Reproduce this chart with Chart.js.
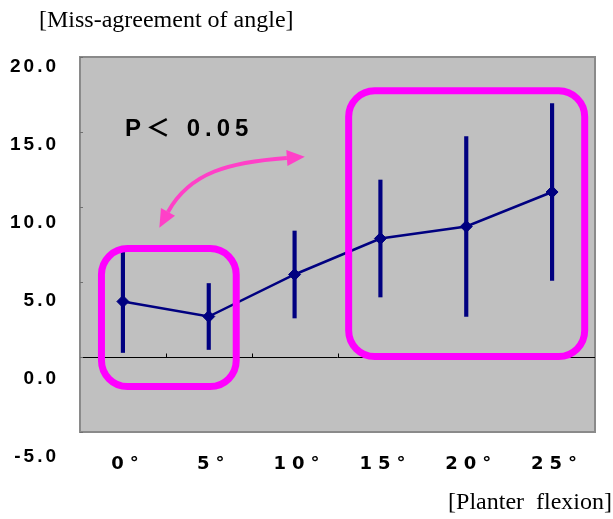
<!DOCTYPE html>
<html><head><meta charset="utf-8">
<script src="https://cdn.jsdelivr.net/npm/chart.js@4"></script>
<style>
html,body{margin:0;padding:0;background:#fff;}
#wrap{position:relative;width:613px;height:519px;overflow:hidden;}
canvas{position:absolute;left:0;top:0;}
.t{position:absolute;font-family:"Liberation Serif","Times New Roman",serif;font-size:24px;line-height:24px;color:#000;white-space:pre;}
</style></head><body>
<div id="wrap">
<canvas id="c" width="613" height="519"></canvas>
<div class="t" style="left:39px;top:7px;">[Miss-agreement of angle]</div>
<div class="t" style="right:1px;top:489px;">[Planter  flexion]</div>
</div>
<script>
// ---- data ----
const categories = ['0°', '5°', '10°', '15°', '20°', '25°'];
const meanValues = [3.7, 2.7, 5.5, 7.9, 8.7, 11.0];
const sdValues   = [3.4, 2.2, 2.9, 3.9, 6.0, 5.9];
const yTickValues = [-5, 0, 5, 10, 15, 20];
const annotationText = 'P＜ 0.05';
const annotationAt = [0.025, 14.73];          // [category index, value]
const boxRegions = [                           // [idx0, idx1, valLow, valHigh]
  [-0.25, 1.32, -1.97, 7.23],
  [2.63, 5.38, 0.03, 17.75]
];
const arrowCurve = [[0.525, 9.67], [0.78, 12.33], [1.25, 13.0], [1.91, 13.27]];

const errorRanges = meanValues.map((m, i) => [m - sdValues[i], m + sdValues[i]]);

function spaced(scale, sp) {
  if (!scale || scale._spPatched) return;
  const orig = scale.drawLabels.bind(scale);
  scale.drawLabels = function (area) {
    const c = this.ctx; const prev = c.letterSpacing;
    c.letterSpacing = sp; orig(area); c.letterSpacing = prev || '0px';
  };
  scale._spPatched = true;
}

const decor = {
  id: 'decor',
  afterLayout(chart) {
    const s = chart.scales.yl, ca = chart.chartArea;
    s.top = ca.top + 10; s.bottom = ca.bottom + 25; s.height = s.bottom - s.top;
    s.configure();
    s._labelItems = null;
  },
  beforeDraw(chart) {
    spaced(chart.scales.x, '6px');
    spaced(chart.scales.yl, '3px');
    const {ctx, chartArea: a} = chart;
    ctx.save();
    ctx.fillStyle = '#C0C0C0';
    ctx.fillRect(a.left, a.top, a.right - a.left, a.bottom - a.top);
    ctx.strokeStyle = '#8a8a8a'; ctx.lineWidth = 2;
    ctx.strokeRect(a.left, a.top, a.right - a.left, a.bottom - a.top);
    ctx.restore();
  },
  beforeDatasetsDraw(chart) {
    const {ctx, chartArea: a, scales: {x, y}} = chart;
    ctx.save();
    ctx.strokeStyle = '#000'; ctx.lineWidth = 1;
    const y0 = Math.round(y.getPixelForValue(0)) + 0.5;
    for (let i = 0; i < categories.length - 1; i++) {
      const px = Math.round(x.getPixelForValue(i + 0.5)) + 0.5;
      ctx.beginPath(); ctx.moveTo(px, y0); ctx.lineTo(px, y0 - 4); ctx.stroke();
    }
    ctx.strokeStyle = '#707070';
    yTickValues.forEach(v => {
      const py = Math.round(y.getPixelForValue(v)) + 0.5;
      ctx.beginPath(); ctx.moveTo(a.left, py); ctx.lineTo(a.left + 3, py); ctx.stroke();
    });
    ctx.restore();
  },
  afterDatasetsDraw(chart) {
    const {ctx, scales: {x, y}} = chart;
    const X = v => x.getPixelForValue(v), Y = v => y.getPixelForValue(v);
    ctx.save();
    ctx.strokeStyle = '#FF00FF'; ctx.lineWidth = 7;
    boxRegions.forEach(([i0, i1, v0, v1]) => {
      const l = X(i0), r = X(i1), t = Y(v1), b = Y(v0);
      ctx.beginPath();
      ctx.roundRect(l, t, r - l, b - t, 26);
      ctx.stroke();
    });
    const p = arrowCurve.map(([i, v]) => [X(i), Y(v)]);
    ctx.strokeStyle = '#FF40C8'; ctx.fillStyle = '#FF40C8'; ctx.lineWidth = 4;
    ctx.beginPath(); ctx.moveTo(p[0][0], p[0][1]);
    ctx.bezierCurveTo(p[1][0], p[1][1], p[2][0], p[2][1], p[3][0], p[3][1]);
    ctx.stroke();
    const head = (base, from) => {
      let dx = base[0] - from[0], dy = base[1] - from[1];
      const L = Math.hypot(dx, dy); dx /= L; dy /= L;
      const len = 18, hw = 8;
      const tip = [base[0] + dx * len, base[1] + dy * len];
      ctx.beginPath();
      ctx.moveTo(tip[0], tip[1]);
      ctx.lineTo(base[0] - dy * hw, base[1] + dx * hw);
      ctx.lineTo(base[0] + dy * hw, base[1] - dx * hw);
      ctx.closePath(); ctx.fill();
    };
    head(p[0], p[1]);
    head(p[3], p[2]);
    ctx.fillStyle = '#000';
    ctx.font = 'bold 24px "Liberation Sans", "Noto Sans CJK JP", sans-serif';
    ctx.letterSpacing = '5px';
    ctx.textAlign = 'left'; ctx.textBaseline = 'alphabetic';
    ctx.fillText(annotationText, X(annotationAt[0]), Y(annotationAt[1]));
    ctx.restore();
  }
};

new Chart(document.getElementById('c'), {
  data: {
    labels: categories,
    datasets: [
      {type: 'line', data: meanValues, borderColor: '#000080', backgroundColor: '#000080',
       borderWidth: 2.5, pointStyle: 'rectRot', pointRadius: 6, pointHoverRadius: 6,
       pointBorderWidth: 1, tension: 0, order: 0},
      {type: 'bar', data: errorRanges, backgroundColor: '#000080', barThickness: 3.5,
       borderWidth: 0, grouped: false, order: 1}
    ]
  },
  options: {
    responsive: false, animation: false,
    layout: {padding: {top: 57, right: 18, left: 0, bottom: 0}},
    plugins: {legend: {display: false}, tooltip: {enabled: false}},
    scales: {
      x: {
        offset: true,
        grid: {display: false}, border: {display: false},
        ticks: {color: '#000', padding: 14, labelOffset: 5,
                font: {family: '"DejaVu Sans"', weight: 'bold', size: 18}},
        afterFit(s) { s.height = 87; }
      },
      y: {
        position: 'left', min: -5, max: 20,
        ticks: {display: false, stepSize: 5},
        grid: {drawTicks: false, lineWidth: 1, color: c => (c.tick && c.tick.value === 0) ? '#000' : 'rgba(0,0,0,0)'},
        border: {display: false},
        afterFit(s) { s.width = 0; }
      },
      yl: {
        position: 'left', min: -5, max: 20,
        grid: {display: false}, border: {display: false},
        ticks: {stepSize: 5, color: '#000', padding: 13,
                font: {family: '"Liberation Sans"', weight: 'bold', size: 19},
                callback: v => Number(v).toFixed(1)},
        afterBuildTicks(s) { s.ticks = yTickValues.map(v => ({value: v})); },
        afterFit(s) { s.width = 80; }
      }
    }
  },
  plugins: [decor]
});
</script>
</body></html>
